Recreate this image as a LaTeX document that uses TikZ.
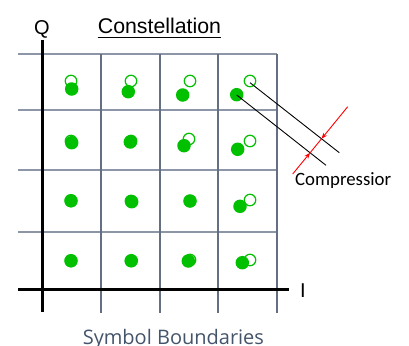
\documentclass[tikz,border=0pt]{standalone}
\usepackage{fontspec}
\usetikzlibrary{arrows.meta}
\newfontfamily\arialf{Liberation Sans}
\newfontfamily\calibf{Carlito}
\newfontfamily\segoef{Open Sans}
\definecolor{dotgreen}{RGB}{0,192,0}
\definecolor{gridhc}{RGB}{140,150,166}
\definecolor{gridvc}{RGB}{100,112,130}
\definecolor{capgray}{RGB}{68,84,106}
\begin{document}
\begin{tikzpicture}[x=1pt,y=-1pt,
  hline/.style={draw=gridhc, line width=1.5pt},
  vline/.style={draw=gridvc, line width=1.4pt},
  axis/.style={draw=black, line width=3pt},
  ideal/.style={circle, draw=dotgreen, line width=1.2pt, fill=white,
                minimum size=11.5pt, inner sep=0pt},
  actual/.style={circle, fill=dotgreen, minimum size=13.5pt, inner sep=0pt},
  lead/.style={draw=black, line width=0.9pt},
  gauge/.style={draw=red, line width=0.9pt},
  gaugetip/.style={gauge, -{Stealth[length=6pt,width=4.5pt]}},
  label/.style={inner sep=0pt, text=black},
]
\useasboundingbox (0,0) rectangle (409,345);

% symbol boundaries
\foreach \y in {54,110,170,232} \draw[hline] (18,\y) -- (277,\y);
\foreach \x in {101,160,218,277} \draw[vline] (\x,54) -- (\x,313);

% I/Q axes
\draw[axis] (42,40) -- (42,312);
\draw[axis] (18,289) -- (289,289);

% ideal constellation points
\node[ideal] (i11) at (71,81) {};
\node[ideal] (i12) at (131,81) {};
\node[ideal] (i13) at (190,81) {};
\node[ideal] (i14) at (250,81) {};
\node[ideal] (i21) at (71,141) {};
\node[ideal] (i22) at (131,141) {};
\node[ideal] (i23) at (189,139) {};
\node[ideal] (i24) at (250,141) {};
\node[ideal] (i31) at (71,201) {};
\node[ideal] (i32) at (131,201) {};
\node[ideal] (i33) at (190,201) {};
\node[ideal] (i34) at (250,200) {};
\node[ideal] (i41) at (71,261) {};
\node[ideal] (i42) at (131,261) {};
\node[ideal] (i43) at (190,260) {};
\node[ideal] (i44) at (250,260) {};

% compressed (received) points
\node[actual] (a11) at (71.7,89) {};
\node[actual] (a12) at (128.3,91.7) {};
\node[actual] (a13) at (182.7,95) {};
\node[actual] (a14) at (236.7,94.7) {};
\node[actual] (a21) at (71.7,142.7) {};
\node[actual] (a22) at (130.3,142) {};
\node[actual] (a23) at (184,145.7) {};
\node[actual] (a24) at (237.7,149.3) {};
\node[actual] (a31) at (71,200.7) {};
\node[actual] (a32) at (131.7,201.7) {};
\node[actual] (a33) at (190,201) {};
\node[actual] (a34) at (240,206.3) {};
\node[actual] (a41) at (71,260.7) {};
\node[actual] (a42) at (131.3,260.7) {};
\node[actual] (a43) at (188.3,261) {};
\node[actual] (a44) at (242.3,262.7) {};

% extension lines from the corner points
\coordinate (s1) at (250,82.7);
\coordinate (s2) at (236.7,95);
\coordinate (e1) at (339.3,152.7);
\coordinate (e2) at (326,165.3);
\draw[lead] (s1) -- (e1);
\draw[lead] (s2) -- (e2);

% compression dimension
\coordinate (r1) at (347.7,106.7);
\coordinate (r2) at (292.7,174);
\coordinate (x1) at (intersection of s1--e1 and r1--r2);
\coordinate (x2) at (intersection of s2--e2 and r1--r2);
\draw[gauge] (x1) -- (x2);
\draw[gaugetip] (r1) -- (x1);
\draw[gaugetip] (r2) -- (x2);

% labels
\node[label, anchor=base, font=\arialf\fontsize{21.3}{24}\selectfont] (title) at (159.5,33.3) {Constellation};
\draw[draw=black, line width=1.3pt] ([yshift=-4.4pt]title.base west) -- ([yshift=-4.4pt]title.base east);
\node[label, anchor=base, font=\arialf\fontsize{20}{24}\selectfont] (qlab) at (42,34.5) {Q};
\node[label, anchor=base, font=\arialf\fontsize{20}{24}\selectfont] (ilab) at (303,297) {I};
\node[label, anchor=base west, font=\calibf\fontsize{18.8}{22}\selectfont] (comp) at (295,185) {Compressior};
\node[label, anchor=base, text=capgray, font=\segoef\fontsize{20}{24}\selectfont] (bound) at (173.4,344.5) {Symbol Boundaries};
\end{tikzpicture}
\end{document}
